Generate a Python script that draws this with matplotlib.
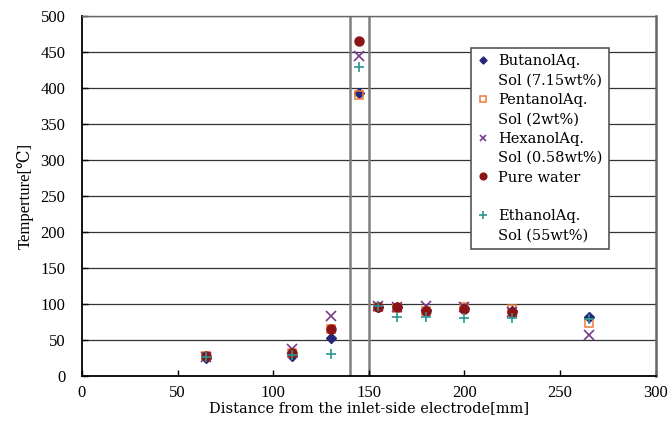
import matplotlib
matplotlib.use("Agg")
import matplotlib.pyplot as plt
from matplotlib.lines import Line2D

plt.rcParams['font.family'] = ['Liberation Serif', 'DejaVu Serif']

# distance from inlet-side electrode [mm]
x_pos = [65, 110, 130, 145, 155, 165, 180, 200, 225, 265]
x_water = [65, 110, 130, 145, 155, 165, 180, 200, 225]

butanol = [26, 28, 53, 393, 96, 96, 92, 95, 91, 83]
pentanol = [28, 33, 66, 391, 96, 95, 90, 96, 93, 74]
hexanol = [27, 38, 84, 445, 97, 96, 97, 96, 89, 58]
pure_water = [28, 33, 65, 466, 96, 96, 91, 94, 89]
ethanol = [27, 30, 31, 429, 97, 83, 83, 81, 81, 80]

labels = ["ButanolAq.", "PentanolAq.", "HexanolAq.", "Pure water", "EthanolAq."]
sublabels = ["Sol (7.15wt%)", "Sol (2wt%)", "Sol (0.58wt%)", " ", "Sol (55wt%)"]

wide = ['DejaVu Serif']

fig = plt.figure(figsize=(6.71, 4.24), dpi=100)
ax = fig.add_axes([0.1222, 0.1125, 0.977 - 0.1222, 0.9616 - 0.1125])

for y in range(50, 501, 50):
    ax.axhline(y, color='#333333', lw=0.9, zorder=1)
ax.axvline(140, color='#7f7f7f', lw=1.8, zorder=1)
ax.axvline(150, color='#7f7f7f', lw=1.8, zorder=1)

h1, = ax.plot(x_pos, butanol, 'D', ms=4.8, color='#26267a', ls='none', zorder=3)
h2, = ax.plot(x_pos, pentanol, 's', ms=5.8, mfc='none', mec='#f07a3a', mew=1.1, ls='none', zorder=3)
h3, = ax.plot(x_pos, hexanol, 'x', ms=6.5, color='#7a3b8c', mew=1.2, ls='none', zorder=3)
h4, = ax.plot(x_water, pure_water, 'o', ms=6.5, color='#8b1515', ls='none', zorder=3)
h5, = ax.plot(x_pos, ethanol, '+', ms=7.5, color='#2a9595', mew=1.2, ls='none', zorder=4)

ax.set_xlim(0, 300)
ax.set_ylim(0, 500)
ax.set_xticks(range(0, 301, 50))
ax.set_yticks(range(0, 501, 50))
ax.tick_params(axis='both', direction='in', length=4, width=1, labelsize=12)
ax.tick_params(axis='x', pad=6)
ax.tick_params(axis='y', pad=12)

for side in ['left', 'bottom']:
    ax.spines[side].set_color('black')
    ax.spines[side].set_linewidth(1.3)
ax.spines['right'].set_color('#666666')
ax.spines['right'].set_linewidth(1.8)
ax.spines['top'].set_color('#666666')
ax.spines['top'].set_linewidth(1.0)

ax.set_xlabel("Distance from the inlet-side electrode[mm]", fontsize=10.5,
              family=wide, labelpad=0)
ax.set_ylabel("Temperture[℃]", fontsize=12, labelpad=5)

blank = Line2D([], [], ls='none', marker=None)
handles, texts = [], []
for h, lab, sub in zip([h1, h2, h3, h4, h5], labels, sublabels):
    handles += [h, blank]
    texts += [lab, sub]

leg = ax.legend(handles, texts, loc='upper left', bbox_to_anchor=(0.678, 0.913),
                prop={'family': wide, 'size': 10.5}, frameon=True, fancybox=False,
                edgecolor='#555555', framealpha=1, handlelength=0.8, handletextpad=0.6,
                labelspacing=0.37, borderpad=0.45, borderaxespad=0, markerscale=0.75)
leg.get_frame().set_linewidth(1.2)

fig.savefig("out.png", dpi=100)
